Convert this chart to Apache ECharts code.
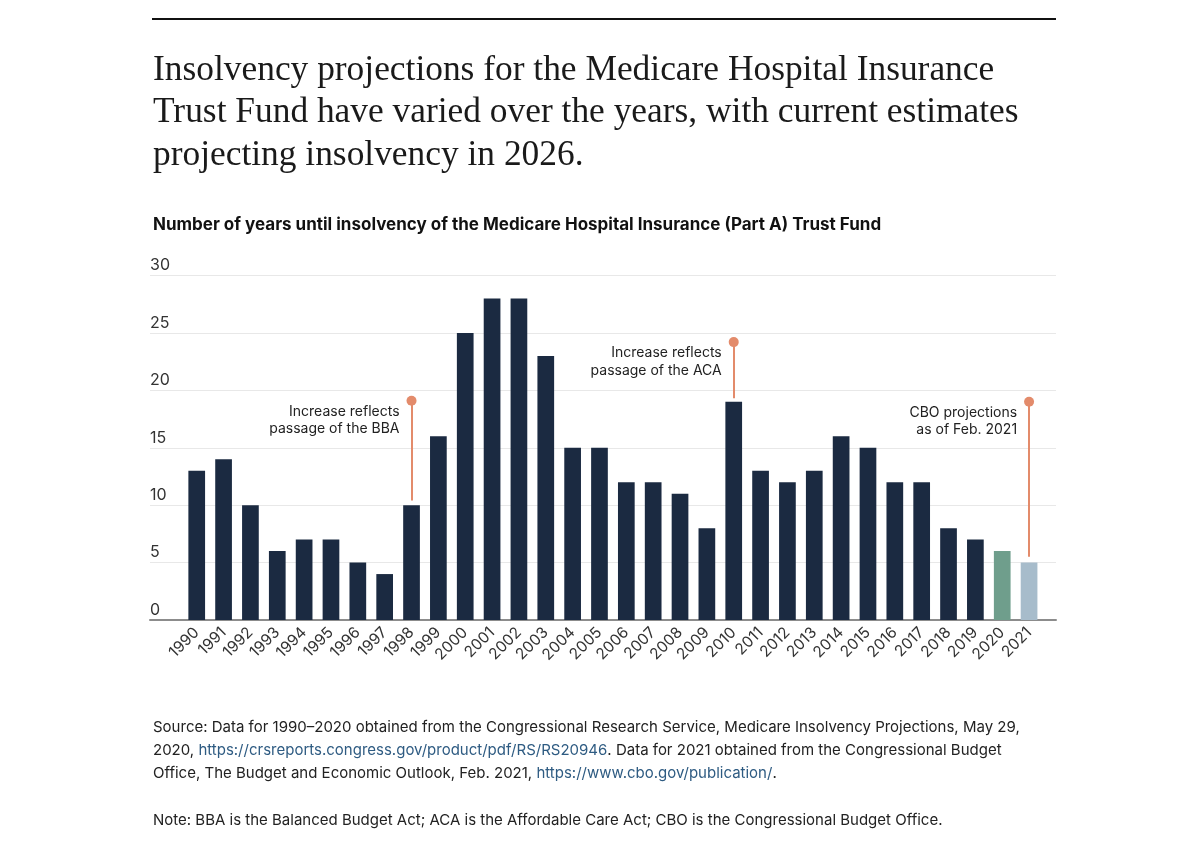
<!DOCTYPE html>
<html>
<head>
<meta charset="utf-8">
<script src="https://cdn.jsdelivr.net/npm/echarts@6/dist/echarts.min.js"></script>
<style>
html,body{margin:0;padding:0;background:#fff;}
#chart{width:1200px;height:849px;}
</style>
</head>
<body>
<div id="chart"></div>
<script>
// ---- data ----
const years = ['1990','1991','1992','1993','1994','1995','1996','1997','1998','1999','2000','2001','2002','2003','2004','2005','2006','2007','2008','2009','2010','2011','2012','2013','2014','2015','2016','2017','2018','2019','2020','2021'];
const yearsToInsolvency = [13,14,10,6,7,7,5,4,10,16,25,28,28,23,15,15,12,12,11,8,19,13,12,13,16,15,12,12,8,7,6,5];
const yTicks = [0,5,10,15,20,25,30];
const annoYears = ['1998','2010','2021'];
const annoDot = [19.1, 24.2, 19.0];
const annoBase = [10.4, 19.3, 5.5];
const annoText = ['Increase reflects\npassage of the BBA','Increase reflects\npassage of the ACA','CBO projections\nas of Feb. 2021'];

const titleText = 'Insolvency projections for the Medicare Hospital Insurance\nTrust Fund have varied over the years, with current estimates\nprojecting insolvency in 2026.';
const subtitleText = 'Number of years until insolvency of the Medicare Hospital Insurance (Part A) Trust Fund';
const sourceText = 'Source: Data for 1990\u20132020 obtained from the Congressional Research Service, Medicare Insolvency Projections, May 29,\n2020, {link|https://crsreports.congress.gov/product/pdf/RS/RS20946}. Data for 2021 obtained from the Congressional Budget\nOffice, The Budget and Economic Outlook, Feb. 2021, {link|https://www.cbo.gov/publication/}.';
const noteText = 'Note: BBA is the Balanced Budget Act; ACA is the Affordable Care Act; CBO is the Congressional Budget Office.';

// ---- styles ----
const SANS = 'Inter, "Noto Sans", sans-serif';
const SERIF = '"Liberation Serif", "DejaVu Serif", serif';
const BAR = '#1b2a41';
const specialColors = {'2020':'#6f9e8c','2021':'#a7bccb'};
const ACCENT = '#e38b6b';

const chart = echarts.init(document.getElementById('chart'), null, {renderer:'canvas'});

const barData = yearsToInsolvency.map((v,i)=>({
  value: v,
  itemStyle: {color: specialColors[years[i]] || BAR}
}));

const option = {
  backgroundColor: '#fff',
  animation: false,
  title: [
    {text: titleText, left: 153, top: 49, padding: 0,
     textStyle:{fontFamily: SERIF, fontSize: 35.4, fontWeight: 'normal', color:'#1a1a1a', lineHeight: 42.5}},
    {text: subtitleText, left: 153, top: 215, padding: 0,
     textStyle:{fontFamily: SANS, fontSize: 17, fontWeight: 'bold', color:'#111', lineHeight: 20}},
    {text: sourceText, left: 153, top: 715.5, padding: 0,
     textStyle:{fontFamily: SANS, fontSize: 15, fontWeight: 'normal', color:'#222', lineHeight: 23,
       rich:{link:{fontFamily: SANS, fontSize: 15, color:'#2e5b82', lineHeight: 23}}}},
    {text: noteText, left: 153, top: 808.5, padding: 0,
     textStyle:{fontFamily: SANS, fontSize: 15, fontWeight: 'normal', color:'#222', lineHeight: 23}}
  ],
  graphic: [
    {type:'line', shape:{x1:152, y1:19, x2:1056, y2:19}, style:{stroke:'#111', lineWidth:2}}
  ],
  grid: [
    {left: 150, width: 906, top: 275.5, height: 344.5},
    {left: 183.3, width: 859.2, top: 275.5, height: 344.5}
  ],
  xAxis: [
    {gridIndex:0, type:'value', min:0, max:1, axisLine:{show:true, lineStyle:{color:'#8c8c8c', width:2}},
     axisTick:{show:false}, axisLabel:{show:false}, splitLine:{show:false}},
    {gridIndex:1, type:'category', data: years, axisLine:{show:false}, axisTick:{show:false},
     axisLabel:{rotate:45, fontFamily: SANS, fontSize: 15.5, color:'#333', margin: 10, interval: 0}}
  ],
  yAxis: [
    {gridIndex:0, type:'value', min: yTicks[0], max: yTicks[yTicks.length-1], interval: yTicks[1]-yTicks[0],
     axisLine:{show:false}, axisTick:{show:false},
     axisLabel:{inside:true, margin:0, align:'left', verticalAlign:'bottom', padding:[0,0,2,0],
       fontFamily: SANS, fontSize: 16, color:'#333'},
     splitLine:{show:true, lineStyle:{color:'#e8e8e8', width:1}}},
    {gridIndex:1, type:'value', min: yTicks[0], max: yTicks[yTicks.length-1], show:false}
  ],
  series: [
    {type:'bar', xAxisIndex:1, yAxisIndex:1, data: barData, barWidth: 16.7,
     markLine: {
       silent: true, symbol: ['none','circle'], symbolSize: 10,
       lineStyle: {color: ACCENT, width: 2, type:'solid'},
       itemStyle: {color: ACCENT},
       label: {show:false},
       data: annoYears.map((y,i)=>[{coord:[y, annoBase[i]]},{coord:[y, annoDot[i]]}])
     },
     markPoint: {
       silent: true, symbol:'circle', symbolSize: 0,
       itemStyle:{color: ACCENT},
       label: {show:true, position:[-12, 2], align:'right', verticalAlign:'top',
         fontFamily: SANS, fontSize: 14, color:'#222', lineHeight: 17.5},
       data: annoYears.map((y,i)=>({coord:[y, annoDot[i]], label:{formatter: annoText[i]}}))
     }
    }
  ]
};
chart.setOption(option);
</script>
</body>
</html>
